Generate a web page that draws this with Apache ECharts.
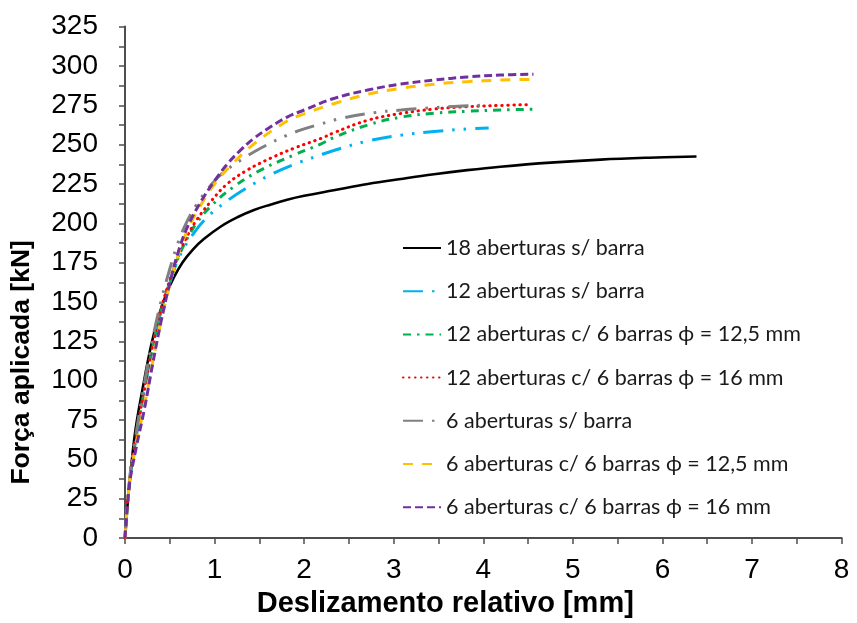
<!DOCTYPE html>
<html>
<head>
<meta charset="utf-8">
<script src="https://cdn.jsdelivr.net/npm/echarts@6/dist/echarts.min.js"></script>
<style>
  html, body { margin: 0; padding: 0; background: #ffffff; }
  #chart { width: 857px; height: 623px; }
</style>
</head>
<body>
<div id="chart"></div>
<script>
// Load–slip curves: applied force [kN] versus relative slip [mm]

const seriesNames = [
  '18 aberturas s/ barra',
  '12 aberturas s/ barra',
  '12 aberturas c/ 6 barras \u03d5 = 12,5 mm',
  '12 aberturas c/ 6 barras \u03d5 = 16 mm',
  '6 aberturas s/ barra',
  '6 aberturas c/ 6 barras \u03d5 = 12,5 mm',
  '6 aberturas c/ 6 barras \u03d5 = 16 mm'
];

// 18 aberturas s/ barra
const slip18 = [0, 0.03, 0.07, 0.12, 0.2, 0.29, 0.37, 0.46, 0.54, 0.64, 0.76, 0.88, 1.07, 1.26, 1.44, 1.63, 1.81, 2.0, 2.33, 2.71, 3.08, 3.45, 3.82, 4.19, 4.75, 5.31, 5.85, 6.38];
const force18 = [0, 22, 46, 70, 96, 122, 140, 155, 165, 175, 183.5, 190, 198, 204, 208.5, 212, 215, 217.5, 221, 225, 228.2, 231.2, 233.8, 236, 238.6, 240.5, 241.7, 242.5];

// 12 aberturas s/ barra
const slip12 = [0, 0.05, 0.12, 0.2, 0.3, 0.4, 0.5, 0.6, 0.77, 0.92, 1.11, 1.33, 1.63, 1.89, 2.15, 2.33, 2.71, 3.08, 3.45, 3.75, 4.06];
const force12 = [0, 35, 63, 89, 119, 144, 162, 178, 194, 204, 213, 221.5, 231, 237.5, 242.8, 246.3, 252.3, 256, 258.3, 259.7, 260.6];

// 12 aberturas c/ 6 barras phi = 12,5 mm
const slip12b125 = [0, 0.05, 0.12, 0.2, 0.3, 0.4, 0.5, 0.6, 0.7, 0.81, 0.96, 1.22, 1.52, 1.89, 2.19, 2.33, 2.71, 3.08, 3.45, 3.82, 4.19, 4.55];
const force12b125 = [0, 36, 63, 89, 119, 144, 163, 179, 191, 201, 211, 223.5, 234, 243.5, 250.5, 254.5, 262.5, 267.5, 270, 271.2, 272, 272.5];

// 12 aberturas c/ 6 barras phi = 16 mm
const slip12b16 = [0, 0.05, 0.12, 0.2, 0.3, 0.4, 0.5, 0.6, 0.7, 0.81, 0.96, 1.14, 1.37, 1.63, 1.89, 2.19, 2.33, 2.71, 3.08, 3.45, 3.82, 4.19, 4.49];
const force12b16 = [0, 36, 63, 90, 120, 145, 164, 180, 192.5, 203, 214, 225, 234, 241.5, 247.8, 254, 257.5, 265.5, 269.8, 272.6, 274.1, 274.9, 275.4];

// 6 aberturas s/ barra
const slip6 = [0, 0.05, 0.12, 0.2, 0.3, 0.4, 0.5, 0.6, 0.7, 0.8, 0.9, 1.07, 1.33, 1.55, 1.81, 2.0, 2.19, 2.41, 2.78, 3.08, 3.37, 3.67, 3.97];
const force6 = [0, 37, 65, 93, 124, 150, 171, 189, 202, 212, 220, 231, 241.5, 248.8, 256, 260, 263.2, 266.6, 270.3, 272, 273.2, 274.2, 275];

// 6 aberturas c/ 6 barras phi = 12,5 mm
const slip6b125 = [0, 0.05, 0.12, 0.22, 0.31, 0.4, 0.5, 0.6, 0.7, 0.85, 1.0, 1.22, 1.44, 1.81, 2.0, 2.33, 2.71, 3.08, 3.45, 3.82, 4.19, 4.56];
const force6b125 = [0, 35, 58, 85, 112, 137, 161, 181, 196, 212, 225, 239, 250.5, 265, 269.5, 276, 282, 285.8, 288.4, 290, 291, 291.5];

// 6 aberturas c/ 6 barras phi = 16 mm
const slip6b16 = [0, 0.05, 0.12, 0.22, 0.31, 0.4, 0.5, 0.59, 0.7, 0.85, 1.0, 1.14, 1.29, 1.44, 1.63, 1.81, 2.0, 2.33, 2.71, 3.08, 3.45, 3.82, 4.19, 4.56];
const force6b16 = [0, 34, 56, 83, 111, 137, 162, 181, 198, 214, 227, 237.5, 246.5, 254, 261.5, 267.5, 272, 279.3, 284.7, 288.5, 291, 293, 294.2, 294.7];

// Axis ticks
const forceTicks = [0, 25, 50, 75, 100, 125, 150, 175, 200, 225, 250, 275, 300, 325];
const slipTicks = [0, 1, 2, 3, 4, 5, 6, 7, 8];

const pairs = (xs, ys) => xs.map((x, i) => [x, ys[i]]);

const curves = [
  { x: slip18, y: force18, color: '#000000', width: 2.6, type: 'solid', cap: 'butt' },
  { x: slip12, y: force12, color: '#00b0f0', width: 3, type: [20, 9, 2.5, 9, 2.5, 9], cap: 'butt' },
  { x: slip12b125, y: force12b125, color: '#00b050', width: 3, type: [8, 6, 2.5, 6], cap: 'butt' },
  { x: slip12b16, y: force12b16, color: '#ff0000', width: 3, type: [0.5, 5.5], cap: 'round' },
  { x: slip6, y: force6, color: '#808080', width: 3, type: [20, 9, 2.5, 9, 2.5, 9], cap: 'butt' },
  { x: slip6b125, y: force6b125, color: '#ffc000', width: 3, type: [10, 9], cap: 'butt' },
  { x: slip6b16, y: force6b16, color: '#7030a0', width: 3, type: [8, 4], cap: 'butt' }
];

const axisColor = '#4d4d4d';
const labelFont = '"Liberation Sans", Arial, sans-serif';

const chart = echarts.init(document.getElementById('chart'), null, { renderer: 'canvas' });

chart.setOption({
  animation: false,
  backgroundColor: '#ffffff',
  grid: { left: 124, right: 15.4, top: 26.6, bottom: 84.2, containLabel: false },
  legend: {
    orient: 'vertical',
    left: 402,
    top: 237,
    padding: 0,
    itemWidth: 38,
    itemHeight: 14,
    itemGap: 21.2,
    data: seriesNames,
    itemStyle: { color: 'rgba(0,0,0,0)', borderWidth: 0, opacity: 0 },
    textStyle: { fontFamily: 'Lato, "Noto Sans", sans-serif', fontSize: 21.5, color: '#1a1a1a' }
  },
  xAxis: {
    type: 'value',
    min: slipTicks[0],
    max: slipTicks[slipTicks.length - 1],
    interval: 1,
    name: 'Deslizamento relativo [mm]',
    nameLocation: 'middle',
    nameGap: 46,
    nameTextStyle: {
      fontFamily: labelFont, fontSize: 29, fontWeight: 'bold', color: '#000',
      padding: [0, 76, 0, 0]
    },
    axisLine: { show: true, onZero: false, lineStyle: { color: axisColor, width: 2 } },
    axisTick: { show: true, inside: false, length: 6, lineStyle: { color: axisColor, width: 1.5 } },
    minorTick: { show: true, splitNumber: 2, length: 6, lineStyle: { color: axisColor, width: 1.5 } },
    splitLine: { show: false },
    axisLabel: {
      margin: 18, fontFamily: labelFont, fontSize: 28, color: '#000',
      formatter: v => String(v)
    }
  },
  yAxis: {
    type: 'value',
    min: forceTicks[0],
    max: forceTicks[forceTicks.length - 1],
    interval: 25,
    name: 'For\u00e7a aplicada [kN]',
    nameLocation: 'middle',
    nameRotate: 90,
    nameGap: 90,
    nameTextStyle: {
      fontFamily: labelFont, fontSize: 26.5, fontWeight: 'bold', color: '#000',
      padding: [0, 160, 0, 0]
    },
    axisLine: { show: true, onZero: false, lineStyle: { color: axisColor, width: 2 } },
    axisTick: { show: true, inside: false, length: 6, lineStyle: { color: axisColor, width: 1.5 } },
    minorTick: { show: true, splitNumber: 2, length: 6, lineStyle: { color: axisColor, width: 1.5 } },
    splitLine: { show: false },
    axisLabel: {
      margin: 27, fontFamily: labelFont, fontSize: 28, color: '#000',
      formatter: v => String(v)
    }
  },
  series: curves.map((c, i) => ({
    name: seriesNames[i],
    type: 'line',
    data: pairs(c.x, c.y),
    showSymbol: false,
    symbol: 'none',
    smooth: 0.4,
    color: c.color,
    lineStyle: { color: c.color, width: c.width, type: c.type, cap: c.cap },
    emphasis: { disabled: true },
    z: 2 + i
  }))
});
</script>
</body>
</html>
